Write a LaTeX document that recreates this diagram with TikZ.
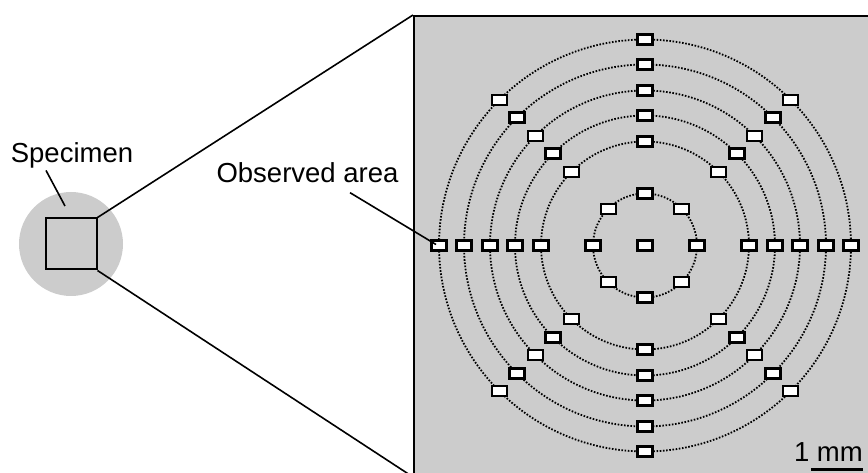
\documentclass[tikz,border=0pt]{standalone}
\usepackage{fontspec}
\setmainfont{Liberation Sans}
\usepackage{tikz}
\usetikzlibrary{positioning}
\definecolor{specgray}{RGB}{204,204,204}

\begin{document}
\begin{tikzpicture}[x=1pt,y=-1pt,
  every node/.style={font=\fontsize{27.5}{30}\selectfont, inner sep=0pt},
  site/.style={rectangle, draw=black, line width=2.2pt, fill=white,
    minimum width=15pt, minimum height=10pt},
  ring/.style={draw=black, line width=1.8pt, dash pattern=on 1.6pt off 1.6pt},
  lead/.style={line width=1.6pt}]

\useasboundingbox (0,0) rectangle (868,473);

% specimen with the observed square
\node (specimen) [circle, fill=specgray, minimum size=104pt] at (71,244) {};
\node (sample) [draw, line width=2pt, minimum size=51pt] at (71,244) {};
\node (lblspec) [anchor=base] at (72,162.5) {Specimen};
\coordinate (specpt) at (65,206);

% enlarged field
\node (field) [draw, line width=2pt, fill=specgray, anchor=north west,
  minimum width=458pt, minimum height=460pt] at (413,15) {};
\coordinate (cen) at (645,245.5);

\foreach \r in {52,104,130,155,181,206}
  \draw [ring] (cen) circle (\r pt);

\node (site-0) [site] at (cen) {};
\foreach \r in {52,104,130,155,181,206}
  \foreach \a in {0,45,...,315}
    \path (cen) ++(\a:\r pt) node (site-\r-\a) [site] {};

\node (lblobs) [anchor=base] at (307.5,182.7) {Observed area};

\draw [lead] ([xshift=-26pt,yshift=-2pt]lblspec.south) -- (specpt);
\draw [lead] ([xshift=42.5pt,yshift=-9.5pt]lblobs.south)
  -- ([xshift=-3pt,yshift=1pt]site-206-180.center);
\draw [lead] (sample.north east) -- (field.north west);
\draw [lead] (sample.south east) -- (field.south west);

% scale bar
\node (scalelbl) [anchor=base east] at (863,461.5) {1 mm};
\coordinate (barL) at (811,469);
\coordinate (barR) at (863,469);
\draw [line width=3pt] (barL) -- (barR);

\end{tikzpicture}
\end{document}
